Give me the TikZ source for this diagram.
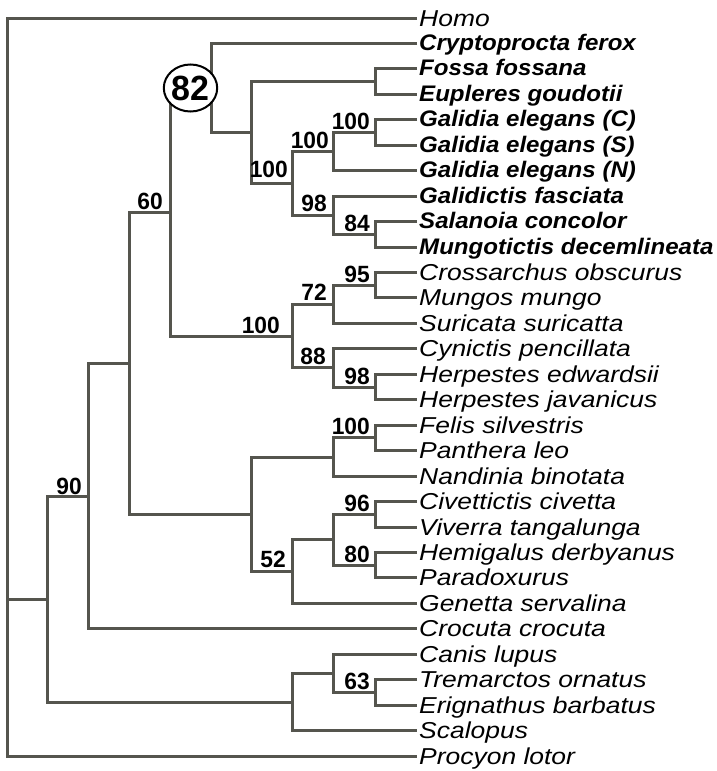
\documentclass[tikz,border=0pt]{standalone}
\usepackage{fontspec}
\setmainfont{Liberation Sans}
\newfontfamily\leafreg[FakeStretch=1.15]{Liberation Sans}
\newfontfamily\leafbold[FakeStretch=1.07]{Liberation Sans}
\newfontfamily\suppfont[FakeStretch=0.97]{Liberation Sans}
\usetikzlibrary{shapes.geometric}
\definecolor{treecol}{RGB}{85,85,78}
\tikzset{
  tree/.style={draw=treecol, line width=3pt, line join=miter},
  leaf/.style={anchor=west, inner sep=0pt, text height=16pt, text depth=0pt, font=\leafreg\fontsize{23}{23}\selectfont\itshape},
  bleaf/.style={anchor=west, inner sep=0pt, text height=14pt, text depth=0pt, font=\leafbold\fontsize{22.5}{22.5}\selectfont\bfseries\itshape},
  supp/.style={anchor=base east, inner sep=0pt, font=\suppfont\fontsize{23.5}{23.5}\selectfont\bfseries},
}
\begin{document}
\begin{tikzpicture}[x=1pt,y=-1pt]
\useasboundingbox (0,0) rectangle (717,771);
% leaves
\node[leaf]  (L0)  at (419,18)     {Homo};
\node[bleaf] (L1)  at (419,43.45)  {Cryptoprocta ferox};
\node[bleaf] (L2)  at (419,68.9)   {Fossa fossana};
\node[bleaf] (L3)  at (419,94.35)  {Eupleres goudotii};
\node[bleaf] (L4)  at (419,119.8)  {Galidia elegans (C)};
\node[bleaf] (L5)  at (419,145.25) {Galidia elegans (S)};
\node[bleaf] (L6)  at (419,170.7)  {Galidia elegans (N)};
\node[bleaf] (L7)  at (419,196.15) {Galidictis fasciata};
\node[bleaf] (L8)  at (419,221.6)  {Salanoia concolor};
\node[bleaf] (L9)  at (419,247.05) {Mungotictis decemlineata};
\node[leaf]  (L10) at (419,272.5)  {Crossarchus obscurus};
\node[leaf]  (L11) at (419,297.95) {Mungos mungo};
\node[leaf]  (L12) at (419,323.4)  {Suricata suricatta};
\node[leaf]  (L13) at (419,348.85) {Cynictis pencillata};
\node[leaf]  (L14) at (419,374.3)  {Herpestes edwardsii};
\node[leaf]  (L15) at (419,399.75) {Herpestes javanicus};
\node[leaf]  (L16) at (419,425.2)  {Felis silvestris};
\node[leaf]  (L17) at (419,450.65) {Panthera leo};
\node[leaf]  (L18) at (419,476.1)  {Nandinia binotata};
\node[leaf]  (L19) at (419,501.55) {Civettictis civetta};
\node[leaf]  (L20) at (419,527)    {Viverra tangalunga};
\node[leaf]  (L21) at (419,552.45) {Hemigalus derbyanus};
\node[leaf]  (L22) at (419,577.9)  {Paradoxurus};
\node[leaf]  (L23) at (419,603.35) {Genetta servalina};
\node[leaf]  (L24) at (419,628.8)  {Crocuta crocuta};
\node[leaf]  (L25) at (419,654.25) {Canis lupus};
\node[leaf]  (L26) at (419,679.7)  {Tremarctos ornatus};
\node[leaf]  (L27) at (419,705.15) {Erignathus barbatus};
\node[leaf]  (L28) at (419,730.6)  {Scalopus};
\node[leaf]  (L29) at (419,756.05) {Procyon lotor};
% leaf tips (end of each terminal branch)
\foreach \i in {0,...,29} {\coordinate (T\i) at ([xshift=-2pt]L\i.west);}
% internal nodes
\coordinate (FE)   at (375,81.6);
\coordinate (GCS)  at (375,132.5);
\coordinate (G100b) at (333,151.6);
\coordinate (SM)   at (375,234.3);
\coordinate (G98)  at (333,215.2);
\coordinate (G100a) at (292,183.4);
\coordinate (M251) at (251,132.5);
\coordinate (N82)  at (211,88.0);
\coordinate (CM)   at (375,285.2);
\coordinate (H72)  at (333,304.3);
\coordinate (HJ)   at (375,387.0);
\coordinate (H88)  at (333,367.9);
\coordinate (H100) at (292,336.1);
\coordinate (N60)  at (170,212.05);
\coordinate (FP)   at (375,437.9);
\coordinate (FN)   at (333,457.0);
\coordinate (CV)   at (375,514.3);
\coordinate (HP)   at (375,565.2);
\coordinate (V333) at (333,539.75);
\coordinate (V52)  at (292,571.55);
\coordinate (F251) at (251,514.3);
\coordinate (N129) at (129,363.2);
\coordinate (N90)  at (88,496.0);
\coordinate (TE)   at (375,692.4);
\coordinate (C63)  at (333,673.3);
\coordinate (B292) at (292,702.0);
\coordinate (N47)  at (47,599.0);
\coordinate (R)    at (7,599.0);
% branches
\draw[tree] (T2) -| (FE) |- (T3);
\draw[tree] (T4) -| (GCS) |- (T5);
\draw[tree] (GCS) -| (G100b) |- (T6);
\draw[tree] (T8) -| (SM) |- (T9);
\draw[tree] (T7) -| (G98) |- (SM);
\draw[tree] (G100b) -| (G100a) |- (G98);
\draw[tree] (FE) -| (M251) |- (G100a);
\draw[tree] (T1) -| (N82) |- (M251);
\draw[tree] (T10) -| (CM) |- (T11);
\draw[tree] (CM) -| (H72) |- (T12);
\draw[tree] (T14) -| (HJ) |- (T15);
\draw[tree] (T13) -| (H88) |- (HJ);
\draw[tree] (H72) -| (H100) |- (H88);
\draw[tree] (N82) -| (N60) |- (H100);
\draw[tree] (T16) -| (FP) |- (T17);
\draw[tree] (FP) -| (FN) |- (T18);
\draw[tree] (T19) -| (CV) |- (T20);
\draw[tree] (T21) -| (HP) |- (T22);
\draw[tree] (CV) -| (V333) |- (HP);
\draw[tree] (V333) -| (V52) |- (T23);
\draw[tree] (FN) -| (F251) |- (V52);
\draw[tree] (N60) -| (N129) |- (F251);
\draw[tree] (N129) -| (N90) |- (T24);
\draw[tree] (T26) -| (TE) |- (T27);
\draw[tree] (T25) -| (C63) |- (TE);
\draw[tree] (C63) -| (B292) |- (T28);
\draw[tree] (N90) -| (N47) |- (B292);
\draw[tree] (T0) -| (R) |- (T29);
\draw[tree] (R) -- (N47);
% support values
\node[supp] (sGCS)  at (370,129) {100};
\node[supp] (sG100b) at (329,148) {100};
\node[supp] (sG100a) at (288,177.5) {100};
\node[supp] (sG98)  at (327,211.5) {98};
\node[supp] (sSM)   at (370,231) {84};
\node[supp] (sN60)  at (163,209.5) {60};
\node[supp] (sCM)   at (370,282) {95};
\node[supp] (sH72)  at (327,300.5) {72};
\node[supp] (sH100) at (280,333) {100};
\node[supp] (sH88)  at (326,364) {88};
\node[supp] (sHJ)   at (370,384) {98};
\node[supp] (sFP)   at (370,434.5) {100};
\node[supp] (sCV)   at (370,511) {96};
\node[supp] (sHP)   at (370,562) {80};
\node[supp] (sV52)  at (286,567.5) {52};
\node[supp] (sN90)  at (82,494) {90};
\node[supp] (sTE)   at (370,689) {63};
\node[draw=black, fill=white, ellipse, line width=2pt, minimum width=53pt, minimum height=47pt, inner sep=0pt, font=\suppfont\fontsize{35}{35}\selectfont\bfseries] (c82) at (190.5,88) {82};
\end{tikzpicture}
\end{document}
